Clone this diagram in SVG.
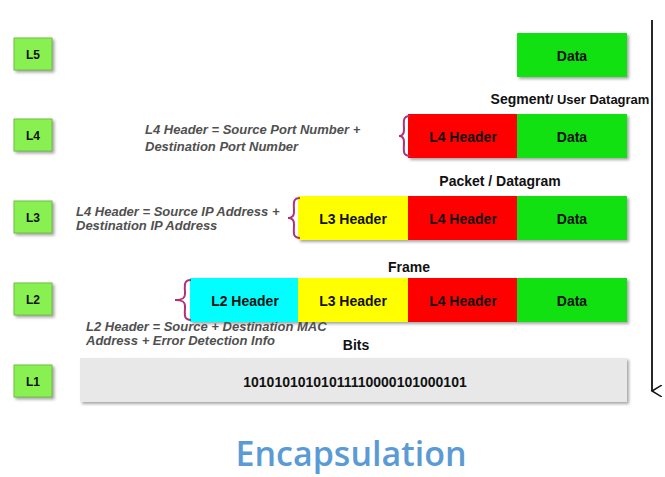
<svg xmlns="http://www.w3.org/2000/svg" width="665" height="477" viewBox="0 0 665 477">
<defs>
<style>
.lay{fill:#88f050;stroke:#6fc040;stroke-width:1}
.t{font-family:"Liberation Sans",Arial,sans-serif;font-weight:bold;font-size:14px;fill:#111;text-anchor:middle}
.sm{font-family:"Liberation Sans",Arial,sans-serif;font-weight:bold;font-size:12px;fill:#111;text-anchor:middle}
.n{font-family:"Liberation Sans",Arial,sans-serif;font-weight:bold;font-style:italic;font-size:13px;fill:#505050}
.br{fill:none;stroke:#b0307a;stroke-width:2}
.sh{filter:drop-shadow(2px 2px 1.5px rgba(0,0,0,0.35))}
</style>
<marker id="ah" markerWidth="12" markerHeight="12" refX="6" refY="10" orient="auto" markerUnits="userSpaceOnUse"><path d="M0,0 L6,10 L12,0" fill="none" stroke="#111" stroke-width="1.5"/></marker>
</defs>
<rect width="665" height="477" fill="#fff"/>
<g id="layers">
<g id="L5"><rect class="lay sh" x="14" y="38" width="38" height="32"/><text class="sm" x="33" y="59">L5</text></g>
<g id="L4"><rect class="lay sh" x="14" y="119" width="38" height="32"/><text class="sm" x="33" y="140">L4</text></g>
<g id="L3"><rect class="lay sh" x="14" y="201" width="38" height="32"/><text class="sm" x="33" y="222">L3</text></g>
<g id="L2"><rect class="lay sh" x="14" y="283" width="38" height="32"/><text class="sm" x="33" y="304">L2</text></g>
<g id="L1"><rect class="lay sh" x="14" y="365" width="38" height="32"/><text class="sm" x="33" y="386">L1</text></g>
</g>
<g id="row5"><rect class="sh" x="517" y="33" width="110" height="44" fill="#11e011"/><text class="t" x="572" y="61">Data</text></g>
<g id="row4">
<text class="t" x="570" y="104">Segment<tspan font-size="13">/ User Datagram</tspan></text>
<g class="sh"><rect x="408" y="114" width="110" height="44" fill="#ff0000"/><rect x="517" y="114" width="110" height="44" fill="#11e011"/></g>
<text class="t" x="463" y="142">L4 Header</text><text class="t" x="572" y="142">Data</text>
<path class="br" d="M410,116 C402,116 404,122 404,130 C404,134 402,136 399,136 C402,136 404,138 404,142 C404,150 402,156 410,156"/>
<text class="n" x="145" y="134">L4 Header = Source Port Number +</text>
<text class="n" x="145" y="151">Destination Port Number</text>
</g>
<g id="row3">
<text class="t" x="500" y="186">Packet / Datagram</text>
<g class="sh"><rect x="298" y="196" width="110" height="44" fill="#ffff00"/><rect x="408" y="196" width="110" height="44" fill="#ff0000"/><rect x="517" y="196" width="110" height="44" fill="#11e011"/></g>
<text class="t" x="353" y="224">L3 Header</text><text class="t" x="463" y="224">L4 Header</text><text class="t" x="572" y="224">Data</text>
<path class="br" d="M300,198 C292,198 294,204 294,212 C294,216 292,218 288,218 C292,218 294,220 294,224 C294,232 292,238 300,238"/>
<text class="n" x="76" y="216">L4 Header = Source IP Address +</text>
<text class="n" x="76" y="230">Destination IP Address</text>
</g>
<g id="row2">
<text class="t" x="409" y="272">Frame</text>
<g class="sh"><rect x="190" y="278" width="109" height="44" fill="#00ffff"/><rect x="298" y="278" width="110" height="44" fill="#ffff00"/><rect x="408" y="278" width="110" height="44" fill="#ff0000"/><rect x="517" y="278" width="110" height="44" fill="#11e011"/></g>
<text class="t" x="245" y="306">L2 Header</text><text class="t" x="353" y="306">L3 Header</text><text class="t" x="463" y="306">L4 Header</text><text class="t" x="572" y="306">Data</text>
<path class="br" d="M191,280 C183,280 185,286 185,294 C185,298 183,300 175,300 C183,300 185,302 185,306 C185,314 183,320 191,320"/>
<text class="n" x="86" y="331">L2 Header = Source + Destination MAC</text>
<text class="n" x="86" y="345">Address + Error Detection Info</text>
</g>
<g id="row1">
<text class="t" x="356" y="350">Bits</text>
<rect class="sh" x="80" y="358" width="547" height="44" fill="#e8e8e8"/>
<text class="t" x="355" y="387">10101010101011110000101000101</text>
</g>
<g id="connectors"><line x1="652" y1="20" x2="652" y2="391" stroke="#111" stroke-width="1.8" marker-end="url(#ah)"/></g>
<text x="351" y="466" font-family="'Open Sans',sans-serif" font-weight="600" font-size="34" fill="#5b9bd5" text-anchor="middle">Encapsulation</text>
</svg>
